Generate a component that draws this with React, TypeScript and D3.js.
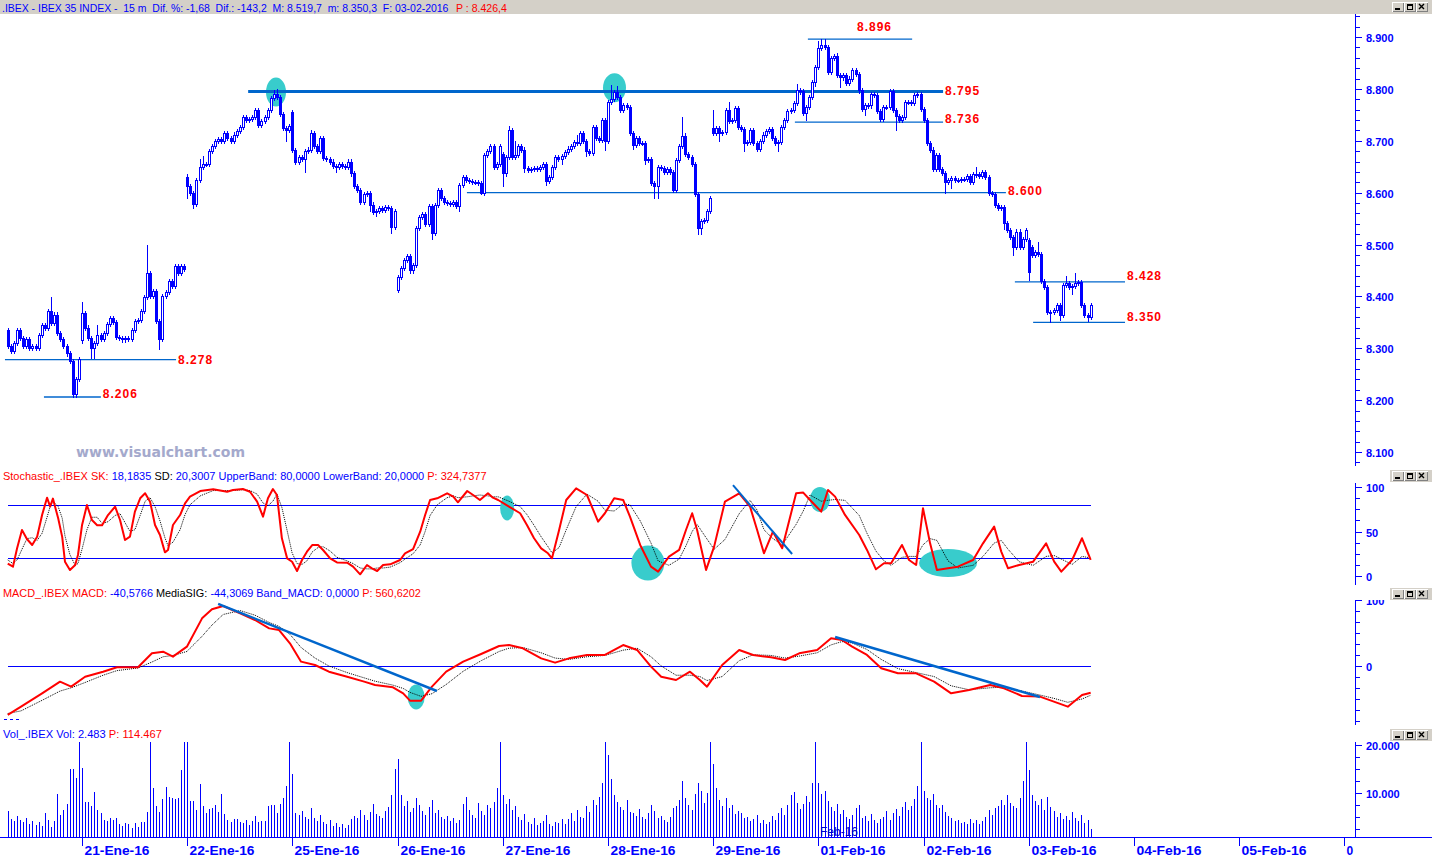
import React, { useEffect, useRef } from "react";
import * as d3 from "d3";

const W = 1432;
const H = 857;

// ---------- price data (15m bars, IBEX 35, 20-Ene-16 .. 03-Feb-16) ----------
const closes = [
  // 20-Ene (partial)
  8305, 8295, 8310, 8335, 8320, 8305, 8318, 8300, 8305, 8300, 8325, 8345, 8340, 8372, 8348, 8365, 8330, 8318, 8305, 8290, 8275, 8212, 8240, 8280,
  // 21-Ene
  8368, 8340, 8320, 8300, 8310, 8325, 8318, 8330, 8346, 8358, 8350, 8322, 8320, 8317, 8320, 8318, 8335, 8352, 8355, 8372,
  8398, 8445, 8400, 8410, 8352, 8318, 8400, 8408, 8430, 8420, 8458, 8445, 8458, 8452,
  // 22-Ene
  8612, 8600, 8578, 8625, 8650, 8655, 8655, 8680, 8690, 8700, 8703, 8700, 8715, 8705, 8700, 8712, 8718, 8727, 8745, 8740,
  8742, 8745, 8760, 8730, 8738, 8745, 8760, 8782, 8790, 8785, 8752, 8725, 8720, 8728,
  // 25-Ene
  8682, 8660, 8668, 8665, 8680, 8683, 8715, 8690, 8680, 8705, 8667, 8665, 8660, 8652, 8650, 8655, 8652, 8650, 8660, 8637,
  8612, 8605, 8582, 8598, 8600, 8577, 8563, 8565, 8570, 8567, 8572, 8570, 8533, 8565,
  // 26-Ene
  8437, 8455, 8470, 8478, 8450, 8460, 8532, 8553, 8558, 8540, 8575, 8522, 8576, 8605, 8590, 8582, 8580, 8578, 8582, 8575,
  8615, 8630, 8625, 8622, 8620, 8620, 8618, 8600, 8673, 8680, 8690, 8650, 8655, 8690,
  // 27-Ene
  8637, 8668, 8720, 8668, 8672, 8690, 8683, 8648, 8643, 8645, 8648, 8645, 8650, 8655, 8622, 8630, 8650, 8668, 8665, 8670,
  8678, 8685, 8690, 8697, 8695, 8715, 8700, 8680, 8677, 8727, 8705, 8702, 8740, 8700,
  // 28-Ene
  8775, 8780, 8794, 8785, 8760, 8768, 8765, 8715, 8692, 8705, 8695, 8695, 8663, 8665, 8618, 8612, 8650, 8648, 8640, 8645,
  8640, 8605, 8663, 8690, 8710, 8675, 8668, 8655, 8598, 8532, 8545, 8548, 8565, 8590,
  // 29-Ene
  8715, 8725, 8715, 8717, 8760, 8738, 8740, 8763, 8727, 8722, 8695, 8698, 8720, 8695, 8685, 8700, 8712, 8718, 8722, 8705,
  8695, 8697, 8727, 8740, 8757, 8760, 8773, 8797, 8795, 8753, 8765, 8785, 8813, 8842,
  // 01-Feb
  8879, 8885, 8880, 8833, 8860, 8863, 8827, 8822, 8826, 8812, 8820, 8837, 8828, 8797, 8762, 8768, 8768, 8790, 8788, 8758,
  8742, 8765, 8765, 8795, 8760, 8748, 8740, 8745, 8775, 8775, 8772, 8788, 8790, 8762,
  // 02-Feb
  8740, 8695, 8683, 8645, 8672, 8645, 8638, 8620, 8625, 8628, 8625, 8625, 8626, 8627, 8632, 8620, 8635, 8635, 8632, 8640,
  8630, 8600, 8598, 8576, 8570, 8572, 8541, 8528, 8515, 8495, 8525, 8495, 8510, 8527,
  // 03-Feb
  8447, 8480, 8485, 8482, 8430, 8418, 8370, 8370, 8374, 8383, 8364, 8422, 8425, 8418, 8420, 8425, 8428, 8383, 8364, 8360, 8383,
];

// opening prices that differ from the previous close (gaps)
const openOverrides: Record<number, number> = {
  0: 8335, 24: 8315, 58: 8630, 92: 8755, 126: 8412, 160: 8675, 194: 8700, 228: 8725, 296: 8762, 330: 8508, 331: 8495,
};
// visible long upper wicks
const highOverrides: Record<number, number> = {
  14: 8398, 24: 8390, 29: 8345, 45: 8500, 58: 8635, 62: 8665, 63: 8670, 86: 8797, 87: 8800, 92: 8760, 98: 8720,
  162: 8728, 164: 8700, 184: 8711, 195: 8808, 197: 8805, 218: 8745, 228: 8760, 233: 8775, 255: 8810, 262: 8893,
  263: 8896, 264: 8896, 268: 8870, 313: 8650, 333: 8505, 342: 8440, 345: 8445,
};
// visible long lower wicks
const lowOverrides: Record<number, number> = {
  21: 8206, 22: 8206, 27: 8282, 28: 8282, 49: 8298, 58: 8590, 60: 8570, 90: 8700, 96: 8640, 106: 8640, 117: 8565,
  119: 8555, 124: 8522, 126: 8408, 137: 8510, 146: 8565, 153: 8597, 160: 8612, 167: 8640, 174: 8615, 179: 8655,
  187: 8670, 193: 8682, 202: 8685, 206: 8655, 209: 8590, 210: 8590, 223: 8520, 224: 8520, 230: 8700, 238: 8680,
  249: 8680, 258: 8740, 261: 8805, 269: 8803, 277: 8750, 287: 8720, 303: 8600, 305: 8608, 322: 8530, 325: 8480,
  330: 8432, 337: 8351, 340: 8355, 344: 8405, 349: 8352,
};

// volume in thousands
const volumes = [
  6.3, 4.6, 4.2, 5.2, 4.4, 3.9, 4.8, 3.5, 4.2, 3.3, 3.9, 3.1, 5.8, 4.4, 2.9, 4.2, 9.8, 5.4, 6.5, 7.7, 15, 15, 13.1, 21,
  15.2, 8.1, 8.1, 7.3, 10.2, 6.5, 5.8, 4.4, 4.2, 4.8, 4.4, 4.8, 3.5, 3.1, 3.8, 3.5, 2.7, 3.8, 2.9, 4.0, 4.0, 6.0, 21, 11, 7.3, 6.0, 8.8, 11.2, 9.2, 9.0, 8.8, 9.0, 14.8, 21,
  21, 8.3, 8.3, 6.5, 11.9, 7.3, 5.8, 6.7, 6.9, 7.5, 6.0, 9.8, 5.6, 4.4, 4.0, 4.6, 4.6, 4.0, 3.8, 4.4, 3.3, 4.2, 5.2, 4.0, 4.2, 4.2, 7.3, 7.5, 7.5, 5.8, 7.7, 9.0, 11.5, 21,
  14, 5.8, 5.4, 6.2, 5.0, 4.6, 6.8, 4.8, 4.2, 5.5, 4.0, 3.6, 4.4, 3.2, 3.8, 3.0, 3.5, 2.8, 3.4, 4.6, 5.2, 4.8, 6.5, 5.4, 4.4, 6.0, 7.8, 5.6, 5.2, 4.8, 6.2, 7.0, 9.5, 15,
  17, 9.5, 7.2, 8.4, 6.0, 6.8, 9.0, 7.5, 6.2, 5.4, 7.0, 8.5, 5.8, 6.4, 5.0, 4.6, 5.2, 4.2, 4.8, 3.8, 4.4, 7.8, 9.2, 6.5, 5.5, 4.8, 8.0, 6.2, 5.4, 7.5, 6.8, 8.2, 11, 21,
  9.5, 7.8, 8.8, 6.5, 7.2, 5.0, 4.4, 5.6, 4.0, 3.6, 4.8, 3.4, 3.8, 4.2, 5.5, 3.6, 3.2, 4.0, 3.8, 4.5, 3.5, 4.6, 5.8, 4.2, 6.5, 5.0, 4.8, 7.2, 6.0, 8.5, 7.6, 9.2, 12, 21,
  18, 13, 9.5, 8.2, 7.0, 6.4, 8.5, 6.0, 5.8, 5.2, 6.6, 5.0, 4.6, 5.8, 7.4, 6.2, 4.8, 5.2, 4.4, 4.0, 5.0, 6.8, 7.2, 8.6, 12.5, 9.0, 7.6, 6.4, 9.8, 12, 10.5, 8.0, 10, 21,
  16, 11, 8.6, 7.2, 9.0, 6.8, 7.5, 5.6, 6.2, 5.8, 4.8, 5.0, 4.2, 4.6, 5.4, 3.8, 4.4, 3.6, 4.0, 5.2, 4.4, 5.8, 6.8, 5.5, 7.6, 9.5, 10.2, 8.0, 6.6, 7.8, 9.4, 8.2, 12, 21,
  12, 9.8, 10.5, 8.4, 7.0, 6.2, 7.8, 5.6, 6.4, 5.0, 4.6, 5.4, 6.8, 7.4, 4.8, 5.2, 4.2, 5.6, 4.4, 3.8, 4.6, 5.0, 6.2, 4.4, 5.8, 6.6, 5.2, 7.0, 8.2, 6.4, 7.2, 8.8, 11.5, 21,
  10.5, 9.0, 8.6, 9.8, 7.4, 6.8, 7.6, 6.0, 5.2, 4.8, 4.2, 4.4, 3.8, 4.0, 3.6, 4.6, 3.8, 4.4, 3.6, 4.2, 5.0, 6.4, 5.4, 6.8, 7.2, 8.6, 7.4, 9.6, 8.0, 7.2, 6.8, 9.0, 12.5, 21,
  14.8, 9.6, 8.4, 7.5, 8.8, 6.4, 9.2, 7.0, 6.2, 5.0, 5.8, 4.6, 5.2, 4.4, 6.0, 4.8, 4.2, 5.4, 3.8, 4.4, 2.483,
];

// ---------- stochastic (sampled at bar positions) ----------
const stochBars = [
  0, 1.7, 3, 4.6, 6.2, 7.9, 9.5, 11.1, 12.7, 13.7, 14.6, 16.3, 17.6, 18.5, 20.1, 21.8, 22.7, 24, 25.6, 27.2,
  28.9, 30.5, 32.4, 34.7, 36.3, 37.9, 39.5, 41.1, 42.8, 44.4, 46, 47.6, 49.2, 50.8, 51.8, 53.4, 55.7, 57.3, 58.9, 62.2,
  66.4, 70.9, 72.8, 76, 78.3, 80.6, 82.5, 84.1, 85.7, 87, 88.6, 90.3, 91.9, 93.5, 95.1, 96.7, 98.4, 100.3, 101.9, 104.2,
  106.4, 109.7, 111.6, 113.9, 116.1, 117.7, 119.4, 121.3, 123.6, 126.8, 128.4, 131, 133.3, 134.9, 136.5, 138.8, 142, 144, 145.5, 148.5,
  150.4, 152.6, 155.2, 156.8, 158.5, 162, 165.6, 167.8, 170.1, 172.4, 174.6, 175.9, 178.2, 180.5, 183.7, 187.2, 190.8, 193, 196, 198.9,
  201.1, 204.4, 207.9, 210.2, 213.7, 217, 219.2, 221.2, 222.8, 225.7, 228.3, 231.8, 236.4, 239.9, 242.2, 244.4, 247.3, 250.3, 254.8, 257.1,
  259.3, 262.9, 265.1, 267.4, 270.6, 275.2, 277.7, 280.6, 283.2, 285.5, 289, 291.3, 293.6, 295.8, 298.1, 300.3, 303.9, 307.1, 312, 315.2,
  318.8, 321.1, 323.3, 326.9, 331.4, 335.6, 338.2, 340.5, 344, 347.2, 350,
];
const stochK = [
  14, 10.5, 31, 51.7, 41.6, 34.8, 44, 68.5, 88, 78, 87, 64.8, 44, 16, 6.7, 12.4, 23.6, 57, 79.8, 62.9,
  57, 57, 68.5, 77.9, 62.9, 40.4, 44.2, 72.3, 87.3, 92.9, 83.5, 57.3, 46, 26.6, 29.2, 57.3, 68.5, 81.6, 89.1, 95.5,
  97.4, 94.7, 96.6, 97.7, 94.7, 83.5, 66.7, 87.3, 97.7, 91, 42.3, 19.8, 16, 5.6, 18, 27.3, 34.8, 34.8, 29.2, 19.8,
  15.3, 15, 10.5, 1.9, 12.4, 8.6, 5.6, 12.4, 13.1, 18, 25.5, 30.3, 49.8, 68.5, 85.4, 87.3, 92.9, 89.1, 82.8, 95.5,
  91, 85.4, 92.9, 88, 85.4, 78, 70.5, 57.3, 42.4, 31.1, 25.5, 19.9, 51.7, 85.4, 98.5, 91, 61.1, 70.5, 87.3, 85.4,
  66.7, 34.9, 10.5, 4.9, 21.8, 29.3, 51.7, 70.5, 51.7, 6.8, 33, 83.6, 92.9, 78, 51.7, 25.5, 49.8, 31.1, 92.9, 93.7,
  85.4, 72.3, 96.7, 89.2, 68.6, 46.1, 29.3, 7.5, 14.3, 14.3, 34.9, 18, 12.4, 76.1, 36.7, 6.8, 8.7, 10.5, 18, 36.7,
  55.5, 27.4, 8.7, 12.4, 16.1, 36.7, 16.1, 4.9, 18, 42.4, 18.2,
];
const stochD = [
  18, 14, 18, 30, 42, 43, 40, 48, 66, 78, 84, 78, 65, 45, 24, 12, 14, 30, 52, 66,
  66, 59, 61, 68, 70, 60, 50, 52, 68, 84, 88, 78, 62, 43, 34, 38, 52, 69, 80, 90,
  96, 96, 96, 97, 96, 92, 82, 79, 84, 92, 77, 51, 26, 14, 13, 17, 27, 32, 33, 28,
  21, 17, 14, 9, 8, 8, 9, 9, 10, 15, 19, 25, 35, 50, 68, 80, 88, 90, 88, 89,
  90, 91, 90, 89, 89, 84, 78, 69, 57, 44, 33, 26, 32, 52, 78, 92, 84, 74, 73, 81,
  80, 62, 37, 17, 12, 19, 34, 50, 58, 43, 30, 41, 70, 85, 74, 52, 42, 35, 58, 73,
  91, 84, 85, 86, 85, 68, 48, 28, 17, 12, 21, 22, 22, 35, 42, 40, 17, 9, 12, 22,
  37, 40, 30, 16, 12, 22, 23, 19, 13, 22, 20.3,
];

// ---------- MACD (sampled at bar positions) ----------
const macdBars = [
  0, 4.3, 11.1, 16.9, 20.5, 25, 30.8, 35.3, 42.1, 46.6, 50.2, 53.4, 57.9, 62.8, 66, 69.6, 75.1, 79.9, 84.5, 87.7,
  91.2, 94.8, 99.3, 103.8, 109.7, 115.2, 118.7, 124.5, 127.8, 130, 133.6, 137.1, 141.7, 147.2, 153, 158.8, 162, 166.5, 172.4, 176.9,
  181.4, 187.2, 193, 198.9, 203.4, 207.9, 211.2, 216, 220.5, 223.7, 226, 230.9, 236.4, 240.9, 246.7, 251.2, 255.8, 261.6, 266.1, 269.6,
  272.9, 277.7, 282.3, 287.7, 293.6, 299.4, 304.9, 310.7, 317.5, 322, 327.8, 333.6, 338.1, 342.6, 347.2, 350,
];
const macdLine = [
  -74, -61.6, -41.4, -23.7, -31.3, -16.2, -8.6, -2, -2, 19.2, 21.7, 14.2, 29.3, 72.2, 85.9, 90.9, 79.8, 69.7, 57, 54.5,
  34.4, 6.6, 1.5, -8.6, -16.2, -23.7, -28.8, -32.3, -41.4, -52.5, -52.5, -31.3, -8.6, 6.6, 18.2, 30.3, 31.8, 26.8, 11.6, 5.1,
  11.6, 16.7, 16.7, 31.8, 24.3, -1, -16.2, -21.2, -8.6, -21.2, -31.3, 1.5, 24.3, 16.7, 13.1, 9.1, 19.2, 24.3, 41.9, 39.4,
  29.3, 16.7, -3.5, -11.1, -11.1, -23.7, -41.4, -36.4, -28.8, -33.8, -45.4, -46.4, -54, -61.6, -43.9, -40.6,
];
const macdSignal = [
  -72, -68, -52, -38, -33, -25, -14, -7, -3, 6, 14, 16, 22, 45, 62, 78, 84, 77, 66, 60,
  48, 28, 12, 0, -10, -18, -23, -29, -34, -40, -46, -42, -28, -8, 8, 22, 27, 28, 20, 12,
  10, 14, 16, 24, 27, 14, 0, -14, -14, -16, -22, -16, 8, 17, 16, 12, 15, 20, 32, 37,
  35, 25, 10, -4, -10, -16, -30, -36, -33, -32, -38, -44, -49, -55, -50, -44.3,
];

// ---------- axis / annotation values ----------
const dayStarts = [24, 58, 92, 126, 160, 194, 228, 262, 296, 330, 364, 398, 432];
const dayLabels = ["21-Ene-16", "22-Ene-16", "25-Ene-16", "26-Ene-16", "27-Ene-16", "28-Ene-16", "29-Ene-16",
  "01-Feb-16", "02-Feb-16", "03-Feb-16", "04-Feb-16", "05-Feb-16", "0"];
const priceTicks = [8100, 8200, 8300, 8400, 8500, 8600, 8700, 8800, 8900];
const stochTicks = [0, 50, 100];
const macdTicks = [0, 100];
const volTicks = [10000, 20000];

const levelValues = [8896, 8795, 8736, 8600, 8428, 8350, 8278, 8206];
const levelFrom = [258.6, 77.7, 254.4, 148.4, 325.5, 331.4, -0.9, 11.7];
const levelTo = [292.3, 302.3, 302.3, 322.6, 361.1, 361.1, 54.4, 30.1];

const priceMarks = [[86.7, 8794], [196.1, 8802]];
const stochMarks = [[161.4, 76.4], [206.9, 14.6], [262.5, 86], [303.9, 14.6]];
const macdMarks = [[132, -47]];
const stochTrend = [[234.4, 102], [253.5, 24.7]];
const macdTrends = [[[68, 94], [138.7, -37.9]], [[267.4, 43.9], [333.6, -47]]];

export default function App() {
  const ref = useRef<SVGSVGElement>(null);

  useEffect(() => {
    const svg = d3.select(ref.current);
    svg.selectAll("*").remove();

    const FONT = "'Liberation Sans', Arial, sans-serif";
    const BLUE = "#0000ff";
    const LBLUE = "#0066cc";
    const RED = "#ff0000";
    const CYAN = "#38cccc";
    const GREY = "#d4d0c8";

    const x = d3.scaleLinear().domain([24, 58]).range([82, 187.2]);
    const yP = d3.scaleLinear().domain([8100, 8900]).range([452, 37]);
    const yS = d3.scaleLinear().domain([0, 100]).range([576, 487]);
    const yM = d3.scaleLinear().domain([0, 100]).range([666, 600]);
    const yV = d3.scaleLinear().domain([0, 20000]).range([841, 745]);
    const AXX = 1355;
    const BASE = 837;
    const N = closes.length;

    const defs = svg.append("defs");
    const clip = (id: string, y0: number, y1: number) =>
      defs.append("clipPath").attr("id", id).append("rect").attr("x", 0).attr("y", y0).attr("width", W).attr("height", y1 - y0);
    clip("clipMacd", 600, 726);
    clip("clipVol", 742, BASE);
    clip("clipStoch", 483, 586);

    svg.append("rect").attr("width", W).attr("height", H).attr("fill", "#fff");

    // ---------- header texts (measured, then condensed horizontally to the reference width) ----------
    const header = (x0: number, y: number, len: number, parts: [string, string][]) => {
      const g = svg.append("g");
      const t = g.append("text").attr("x", 0).attr("y", 0).attr("font-family", FONT).attr("font-size", 11)
        .style("white-space", "pre");
      parts.forEach(([s, c]) => t.append("tspan").attr("fill", c).text(s));
      const node = t.node() as SVGTextElement;
      const natural = node.getComputedTextLength ? node.getComputedTextLength() : len;
      const k = natural > 0 ? len / natural : 1;
      g.attr("transform", `translate(${x0},${y}) scale(${k},1)`);
    };
    svg.append("rect").attr("x", 0).attr("y", 0).attr("width", W).attr("height", 14).attr("fill", GREY);
    header(2, 12, 447, [
      [".IBEX - IBEX 35 INDEX -  15 m  Dif. %: -1,68  Dif.: -143,2  M: 8.519,7  m: 8.350,3  F: 03-02-2016", BLUE],
    ]);
    header(456, 12, 51, [["P : 8.426,4", RED]]);
    header(3, 480, 484, [
      ["Stochastic_.IBEX SK: ", RED], ["18,1835 ", BLUE], ["SD: ", "#000"],
      ["20,3007 UpperBand: 80,0000 LowerBand: 20,0000 ", BLUE], ["P: 324,7377", RED],
    ]);
    header(3, 597, 418, [
      ["MACD_.IBEX MACD: ", RED], ["-40,5766 ", BLUE], ["MediaSIG: ", "#000"],
      ["-44,3069 Band_MACD: 0,0000 ", BLUE], ["P: 560,6202", RED],
    ]);
    header(3, 738, 159, [["Vol_.IBEX Vol: 2.483 ", BLUE], ["P: 114.467", RED]]);

    // ---------- window buttons ----------
    const buttons = (y0: number, bg: boolean) => {
      const g = svg.append("g").attr("shape-rendering", "crispEdges");
      if (bg) g.append("rect").attr("x", 1390).attr("y", y0 - 1).attr("width", 42).attr("height", 12).attr("fill", GREY);
      [1392, 1404, 1416].forEach((bx, k) => {
        g.append("rect").attr("x", bx + 0.5).attr("y", y0 + 0.5).attr("width", 11).attr("height", 9)
          .attr("fill", GREY).attr("stroke", "#808080");
        g.append("path").attr("d", `M${bx + 0.5},${y0 + 9.5}V${y0 + 0.5}H${bx + 11.5}`).attr("stroke", "#fff").attr("fill", "none");
        if (k === 0) g.append("rect").attr("x", bx + 3).attr("y", y0 + 6).attr("width", 5).attr("height", 2).attr("fill", "#000");
        if (k === 1) {
          g.append("rect").attr("x", bx + 3.5).attr("y", y0 + 2.5).attr("width", 5).attr("height", 5).attr("fill", "none").attr("stroke", "#000");
          g.append("rect").attr("x", bx + 3).attr("y", y0 + 2).attr("width", 6).attr("height", 2).attr("fill", "#000");
        }
        if (k === 2) {
          g.append("path").attr("d", `M${bx + 3},${y0 + 2}L${bx + 8},${y0 + 7}M${bx + 8},${y0 + 2}L${bx + 3},${y0 + 7}`)
            .attr("stroke", "#000").attr("stroke-width", 1.4).attr("shape-rendering", "auto");
        }
      });
    };
    buttons(2, false);
    buttons(471, true);
    buttons(589, true);
    buttons(730, true);

    // ---------- watermark ----------
    svg.append("text").attr("x", 76).attr("y", 457).attr("font-family", "'DejaVu Sans', Verdana, sans-serif")
      .attr("font-weight", "bold").attr("font-size", 14).attr("fill", "#a4a9cc")
      .attr("textLength", 169).attr("lengthAdjust", "spacingAndGlyphs").text("www.visualchart.com");

    // ---------- price panel ----------
    const gMain = svg.append("g");
    priceMarks.forEach(([b, v], k) => {
      gMain.append("ellipse").attr("cx", x(b)).attr("cy", yP(v)).attr("rx", k === 0 ? 10 : 11.5).attr("ry", 14.5).attr("fill", CYAN);
    });
    levelValues.forEach((v, k) => {
      const yy = yP(v);
      gMain.append("line").attr("x1", x(levelFrom[k])).attr("x2", x(levelTo[k])).attr("y1", yy).attr("y2", yy)
        .attr("stroke", LBLUE).attr("stroke-width", v === 8795 ? 3 : 1.3);
    });

    const opens = closes.map((c, i) => (openOverrides[i] !== undefined ? openOverrides[i] : i > 0 ? closes[i - 1] : c));
    const highs = closes.map((c, i) => (highOverrides[i] !== undefined ? highOverrides[i] : Math.max(opens[i], c) + 4));
    const lows = closes.map((c, i) => (lowOverrides[i] !== undefined ? lowOverrides[i] : Math.min(opens[i], c) - 4));

    const gC = gMain.append("g").attr("shape-rendering", "crispEdges");
    for (let i = 0; i < N; i++) {
      const cx = Math.round(x(i));
      const o = opens[i], c = closes[i];
      const top = Math.round(yP(Math.max(o, c)));
      const bot = Math.round(yP(Math.min(o, c)));
      gC.append("line").attr("x1", cx + 0.5).attr("x2", cx + 0.5)
        .attr("y1", Math.round(yP(highs[i]))).attr("y2", Math.round(yP(lows[i])) + 1).attr("stroke", BLUE);
      gC.append("rect").attr("x", cx - 0.5).attr("y", top + 0.5).attr("width", 2).attr("height", Math.max(bot - top, 1))
        .attr("fill", c >= o ? "#fff" : BLUE).attr("stroke", BLUE);
    }

    // level labels
    const labelAbove = [true, false, false, false, false, false, false, false];
    const labelDy = [-8, 3.5, 0.5, 2, -2, -1, 4, 1];
    levelValues.forEach((v, k) => {
      const xx = labelAbove[k] ? (x(levelFrom[k]) + x(levelTo[k])) / 2 - 3 : x(levelTo[k]) + 2;
      gMain.append("text").attr("x", xx).attr("y", yP(v) + labelDy[k])
        .attr("font-family", FONT).attr("font-weight", "bold").attr("font-size", 12).attr("letter-spacing", 1)
        .attr("fill", RED).text(d3.format(".3f")(v / 1000));
    });

    // ---------- right axes ----------
    const axis = (y0: number, y1: number, scale: any, minor: number[], major: number[], fmt: (v: number) => string, clipId?: string) => {
      const g = svg.append("g");
      const gl = g.append("g").attr("shape-rendering", "crispEdges");
      gl.append("line").attr("x1", AXX + 0.5).attr("x2", AXX + 0.5).attr("y1", y0).attr("y2", y1).attr("stroke", BLUE);
      minor.forEach((v) => {
        const yy = Math.round(scale(v)) + 0.5;
        if (yy < y0 || yy > y1) return;
        gl.append("line").attr("x1", AXX).attr("x2", AXX + 5).attr("y1", yy).attr("y2", yy).attr("stroke", BLUE);
      });
      const gt = g.append("g");
      if (clipId) gt.attr("clip-path", `url(#${clipId})`);
      major.forEach((v) => {
        const yy = Math.round(scale(v)) + 0.5;
        gl.append("line").attr("x1", AXX).attr("x2", AXX + 7).attr("y1", yy).attr("y2", yy).attr("stroke", BLUE);
        gt.append("text").attr("x", 1366).attr("y", yy + 4).attr("font-family", FONT).attr("font-weight", "bold")
          .attr("font-size", 11).attr("fill", BLUE).text(fmt(v));
      });
    };
    axis(14, 466, yP, d3.range(8080, 8941, 20), priceTicks, (v) => d3.format(".3f")(v / 1000));
    axis(483, 585, yS, d3.range(-12.5, 101, 12.5), stochTicks, (v) => String(v), "clipStoch");
    axis(600, 725, yM, d3.range(-100, 101, 100 / 6), macdTicks, (v) => String(v), "clipMacd");
    axis(742, BASE, yV, d3.range(0, 20001, 2500), volTicks, (v) => d3.format(",")(v).replace(/,/g, "."), "clipVol");

    // ---------- stochastic ----------
    const gS = svg.append("g");
    [80, 20].forEach((v) => {
      gS.append("line").attr("x1", x(0)).attr("x2", x(N - 1)).attr("y1", Math.round(yS(v)) + 0.5).attr("y2", Math.round(yS(v)) + 0.5)
        .attr("stroke", BLUE).attr("shape-rendering", "crispEdges");
    });
    const sRx = [7, 16.5, 10, 29];
    const sRy = [12.5, 17.5, 12.5, 14];
    stochMarks.forEach(([b, v], k) => {
      gS.append("ellipse").attr("cx", x(b)).attr("cy", yS(v)).attr("rx", sRx[k]).attr("ry", sRy[k]).attr("fill", CYAN);
    });
    const lineS = (vals: number[]) => d3.line<number>().x((_, i) => x(stochBars[i])).y((d) => yS(d))(vals) as string;
    gS.append("path").attr("d", lineS(stochD)).attr("fill", "none").attr("stroke", "#000").attr("stroke-width", 1).attr("stroke-dasharray", "1 1");
    gS.append("path").attr("d", lineS(stochK)).attr("fill", "none").attr("stroke", RED).attr("stroke-width", 2).attr("stroke-linejoin", "round");
    gS.append("line").attr("x1", x(stochTrend[0][0])).attr("y1", yS(stochTrend[0][1])).attr("x2", x(stochTrend[1][0])).attr("y2", yS(stochTrend[1][1]))
      .attr("stroke", LBLUE).attr("stroke-width", 2);

    // ---------- MACD ----------
    const gM = svg.append("g");
    gM.append("line").attr("x1", x(0)).attr("x2", x(N - 1)).attr("y1", Math.round(yM(0)) + 0.5).attr("y2", Math.round(yM(0)) + 0.5)
      .attr("stroke", BLUE).attr("shape-rendering", "crispEdges");
    macdMarks.forEach(([b, v]) => {
      gM.append("ellipse").attr("cx", x(b)).attr("cy", yM(v)).attr("rx", 8.5).attr("ry", 12.5).attr("fill", CYAN);
    });
    const lineM = (vals: number[]) => d3.line<number>().x((_, i) => x(macdBars[i])).y((d) => yM(d))(vals) as string;
    gM.append("path").attr("d", lineM(macdSignal)).attr("fill", "none").attr("stroke", "#000").attr("stroke-width", 1).attr("stroke-dasharray", "1 1");
    gM.append("path").attr("d", lineM(macdLine)).attr("fill", "none").attr("stroke", RED).attr("stroke-width", 2).attr("stroke-linejoin", "round");
    macdTrends.forEach(([a, b]) => {
      gM.append("line").attr("x1", x(a[0])).attr("y1", yM(a[1])).attr("x2", x(b[0])).attr("y2", yM(b[1]))
        .attr("stroke", LBLUE).attr("stroke-width", 2.5);
    });
    gM.append("line").attr("x1", 4).attr("x2", 21).attr("y1", 719.5).attr("y2", 719.5).attr("stroke", BLUE)
      .attr("stroke-dasharray", "3 3").attr("shape-rendering", "crispEdges");

    // ---------- volume ----------
    const gV = svg.append("g").attr("shape-rendering", "crispEdges");
    volumes.forEach((v, i) => {
      const cx = Math.round(x(i)) + 0.5;
      gV.append("line").attr("x1", cx).attr("x2", cx).attr("y1", BASE).attr("y2", Math.max(Math.round(yV(v * 1000)), 742))
        .attr("stroke", BLUE);
    });
    svg.append("text").attr("x", 820).attr("y", 836).attr("font-family", FONT).attr("font-size", 12)
      .attr("fill", "#0000cc").text("Feb-16");

    // ---------- bottom date axis ----------
    const gB = svg.append("g").attr("shape-rendering", "crispEdges");
    gB.append("line").attr("x1", 0).attr("x2", W).attr("y1", BASE + 0.5).attr("y2", BASE + 0.5).attr("stroke", BLUE);
    dayStarts.forEach((b, k) => {
      const xx = Math.round(x(b)) + 0.5;
      gB.append("line").attr("x1", xx).attr("x2", xx).attr("y1", BASE).attr("y2", BASE + 9).attr("stroke", BLUE);
      const lab = dayLabels[k];
      const t = svg.append("text").attr("x", xx + 2).attr("y", 855).attr("font-family", FONT).attr("font-weight", "bold")
        .attr("font-size", 12).attr("fill", BLUE).text(lab);
      if (lab.length > 3) t.attr("textLength", 65).attr("lengthAdjust", "spacingAndGlyphs");
    });
  }, []);

  return (
    <svg
      ref={ref}
      width={W}
      height={H}
      style={{ position: "absolute", left: 0, top: 0, display: "block" }}
    />
  );
}
